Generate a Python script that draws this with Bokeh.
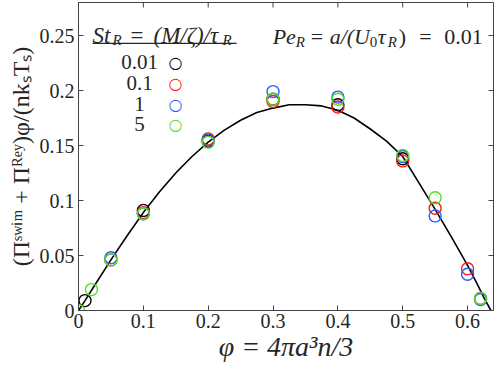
from bokeh.plotting import figure
from bokeh.models import Range1d, FixedTicker, NumeralTickFormatter, Label, Arrow
from bokeh.embed import file_html
from bokeh.resources import INLINE

# ---- data ----
st_labels = ["0.01", "0.1", "1", "5"]
st_colors = ["#000000", "#ff1a1a", "#2a5cff", "#55e01b"]

phi_k = [0.01, 0.1, 0.2, 0.3, 0.4, 0.5]
val_k = [0.009, 0.091, 0.154, 0.192, 0.187, 0.138]

phi_r = [0.05, 0.1, 0.2, 0.3, 0.4, 0.5, 0.55, 0.6, 0.62]
val_r = [0.046, 0.089, 0.156, 0.190, 0.185, 0.136, 0.093, 0.038, 0.011]

phi_b = [0.05, 0.1, 0.2, 0.3, 0.4, 0.5, 0.55, 0.6, 0.62]
val_b = [0.048, 0.088, 0.155, 0.199, 0.194, 0.140, 0.086, 0.033, 0.010]

phi_g = [0.0, 0.02, 0.05, 0.1, 0.2, 0.3, 0.4, 0.5, 0.55, 0.62]
val_g = [0.0, 0.019, 0.046, 0.088, 0.153, 0.192, 0.192, 0.141, 0.1025, 0.011]

phi_fit = [0.0, 0.01, 0.025, 0.05, 0.075, 0.1, 0.125, 0.15, 0.175, 0.2, 0.225, 0.25,
           0.275, 0.3, 0.325, 0.35, 0.375, 0.4, 0.425, 0.45, 0.475, 0.5, 0.525,
           0.55, 0.575, 0.6, 0.615, 0.625, 0.636]
val_fit = [0.0, 0.009, 0.023, 0.046, 0.068, 0.089, 0.108, 0.125, 0.140, 0.153, 0.164,
           0.173, 0.180, 0.184, 0.187, 0.187, 0.186, 0.182, 0.175, 0.165, 0.154, 0.140,
           0.116, 0.092, 0.067, 0.041, 0.024, 0.012, 0.0]

x_ticks = [0, 0.1, 0.2, 0.3, 0.4, 0.5, 0.6]
y_ticks = [0, 0.05, 0.1, 0.15, 0.2, 0.25]
X_MAX = 0.64
Y_MAX = 0.28

SERIF = "Liberation Serif"
AX = "#444444"
TXT = "#262626"

p = figure(width=496, height=372, x_range=Range1d(0, X_MAX), y_range=Range1d(0, Y_MAX),
           output_backend="svg", toolbar_location=None,
           min_border_left=78, min_border_right=3, min_border_top=2, min_border_bottom=62)
p.xgrid.visible = False
p.ygrid.visible = False
p.outline_line_color = AX
p.outline_line_width = 1
p.background_fill_color = "white"
p.border_fill_color = "white"

for ax, ticks in ((p.xaxis[0], x_ticks), (p.yaxis[0], y_ticks)):
    ax.ticker = FixedTicker(ticks=ticks)
    ax.formatter = NumeralTickFormatter(format="0.[00]")
    ax.major_tick_in = 5
    ax.major_tick_out = 0
    ax.minor_tick_line_color = None
    ax.axis_line_color = AX
    ax.major_tick_line_color = AX
    ax.major_label_text_font = SERIF
    ax.major_label_text_font_size = "20px"
    ax.major_label_text_color = TXT
    ax.axis_label_text_font = SERIF
    ax.axis_label_text_color = TXT

p.xaxis[0].axis_label = "φ = 4πa³n/3"
p.xaxis[0].axis_label_text_font_size = "28px"
p.xaxis[0].axis_label_text_font_style = "italic"
p.xaxis[0].major_label_standoff = 3
p.xaxis[0].axis_label_standoff = 0
p.yaxis[0].axis_label = "(Πˢʷⁱᵐ + Πᴿᵉʸ)φ/(nkₛTₛ)"
p.yaxis[0].axis_label_text_font_size = "24px"
p.yaxis[0].axis_label_text_font_style = "normal"
p.yaxis[0].major_label_standoff = 4
p.yaxis[0].axis_label_standoff = 3

# mirrored tick marks on the top and right edges of the box, at the tick values
tick_dy = 5.0 / 1100
tick_dx = 5.0 / 648
p.segment(x0=x_ticks, y0=[Y_MAX] * len(x_ticks), x1=x_ticks, y1=[Y_MAX - tick_dy] * len(x_ticks),
          line_color=AX, line_width=1)
p.segment(x0=[X_MAX] * len(y_ticks), y0=y_ticks, x1=[X_MAX - tick_dx] * len(y_ticks), y1=y_ticks,
          line_color=AX, line_width=1)

# fitted curve
p.line(phi_fit, val_fit, line_color="black", line_width=1.6)

# data series
for xs, ys, c in ((phi_k, val_k, st_colors[0]), (phi_r, val_r, st_colors[1]),
                  (phi_b, val_b, st_colors[2]), (phi_g, val_g, st_colors[3])):
    p.scatter(xs, ys, marker="circle", size=12, fill_color=None, line_color=c, line_width=1.4)


def lab(x, y, text, size, style="italic", align="left", baseline="alphabetic", color=TXT, font=SERIF):
    p.add_layout(Label(x=x, y=y, text=text, text_font=font, text_font_size=size,
                       text_font_style=style, text_align=align, text_baseline=baseline,
                       text_color=color))


# legend title  St_R = (M/ζ)/τ_R
lab(0.0216, 0.250, "St", "23px")
lab(0.0525, 0.2455, "R", "15px")
lab(0.0802, 0.250, "=", "23px", style="normal")
lab(0.1157, 0.250, "(M/ζ)/τ", "23px")
lab(0.2222, 0.2455, "R", "15px")
p.add_layout(Arrow(x_start=0.0216, y_start=0.2428, x_end=0.2438, y_end=0.2428,
                   start=None, end=None, line_color=TXT, line_width=1.2))

# legend entries
leg_y = [0.2255, 0.2065, 0.1875, 0.1694]
for t, c, yy in zip(st_labels, st_colors, leg_y):
    lab(0.0941, yy, t, "21px", style="normal", align="center", baseline="middle")
    lab(0.1497, yy, "○", "16px", style="normal", align="center", baseline="middle",
        color=c, font="DejaVu Sans")

# Pe_R = a/(U_0 τ_R) = 0.01
lab(0.2994, 0.249, "Pe", "22px")
lab(0.3349, 0.2445, "R", "15px")
lab(0.3580, 0.249, "=", "22px", style="normal")
lab(0.3873, 0.249, "a/(U", "22px")
lab(0.4491, 0.2445, "0", "15px", style="normal")
lab(0.4614, 0.249, "τ", "22px")
lab(0.4769, 0.2445, "R", "15px")
lab(0.4938, 0.249, ")", "22px", style="normal")
lab(0.5255, 0.249, "=", "22px", style="normal")
lab(0.6235, 0.249, "0.01", "22px", style="normal", align="right")

open("out.html", "w").write(file_html(p, INLINE))
